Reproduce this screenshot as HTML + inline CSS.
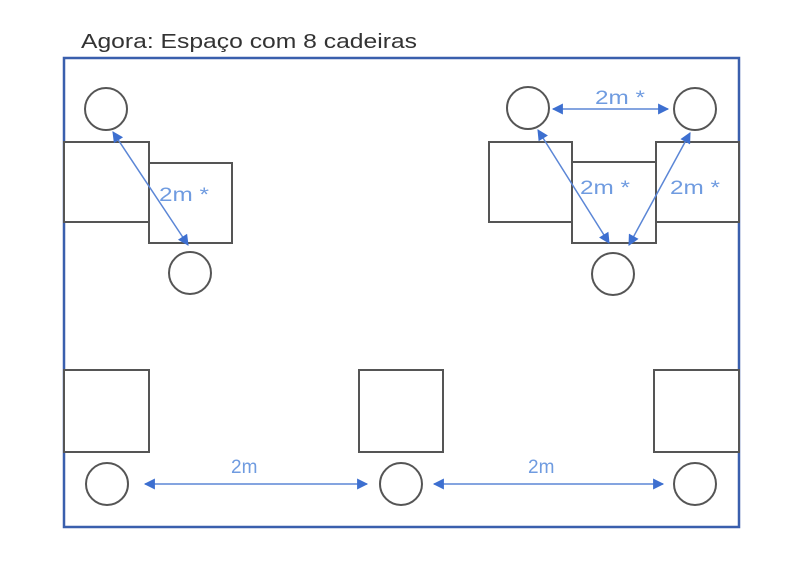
<!DOCTYPE html>
<html><head><meta charset="utf-8"><style>html,body{margin:0;padding:0;background:#fff}svg{display:block}</style></head>
<body>
<svg width="792" height="561" viewBox="0 0 792 561" xmlns="http://www.w3.org/2000/svg" font-family="Liberation Sans, sans-serif">
<defs>
<marker id="a" viewBox="0 0 10 10" refX="9" refY="5" markerWidth="13" markerHeight="11" orient="auto-start-reverse" markerUnits="userSpaceOnUse">
<path d="M0,0 L10,5 L0,10 z" fill="#3d6fd0"/></marker>
</defs>
<text x="81" y="48" font-size="20" fill="#333" textLength="336" lengthAdjust="spacingAndGlyphs">Agora: Espaço com 8 cadeiras</text>
<rect x="64" y="58" width="675" height="469" fill="#fff" stroke="#3a5fad" stroke-width="2.5"/>
<g fill="#fff" stroke="#555" stroke-width="2">
<rect x="64" y="142" width="85" height="80"/>
<rect x="149" y="163" width="83" height="80"/>
<rect x="489" y="142" width="83" height="80"/>
<rect x="572" y="162" width="84" height="81"/>
<rect x="656" y="142" width="83" height="80"/>
<rect x="64" y="370" width="85" height="82"/>
<rect x="359" y="370" width="84" height="82"/>
<rect x="654" y="370" width="85" height="82"/>
<circle cx="106" cy="109" r="21"/>
<circle cx="190" cy="273" r="21"/>
<circle cx="528" cy="108" r="21"/>
<circle cx="695" cy="109" r="21"/>
<circle cx="613" cy="274" r="21"/>
<circle cx="107" cy="484" r="21"/>
<circle cx="401" cy="484" r="21"/>
<circle cx="695" cy="484" r="21"/>
</g>
<g stroke="#5b86d6" stroke-width="1.5" fill="none" marker-start="url(#a)" marker-end="url(#a)">
<line x1="113" y1="132" x2="188" y2="245"/>
<line x1="553" y1="109" x2="668" y2="109"/>
<line x1="538" y1="130" x2="609" y2="243"/>
<line x1="690" y1="133" x2="629" y2="245"/>
<line x1="145" y1="484" x2="367" y2="484"/>
<line x1="434" y1="484" x2="663" y2="484"/>
</g>
<g fill="#6f9be0" font-size="19">
<text x="159" y="201" textLength="50" lengthAdjust="spacingAndGlyphs">2m *</text>
<text x="595" y="104" textLength="50" lengthAdjust="spacingAndGlyphs">2m *</text>
<text x="580" y="194" textLength="50" lengthAdjust="spacingAndGlyphs">2m *</text>
<text x="670" y="194" textLength="50" lengthAdjust="spacingAndGlyphs">2m *</text>
<text x="231" y="473">2m</text>
<text x="528" y="473">2m</text>
</g>
</svg>
</body></html>
